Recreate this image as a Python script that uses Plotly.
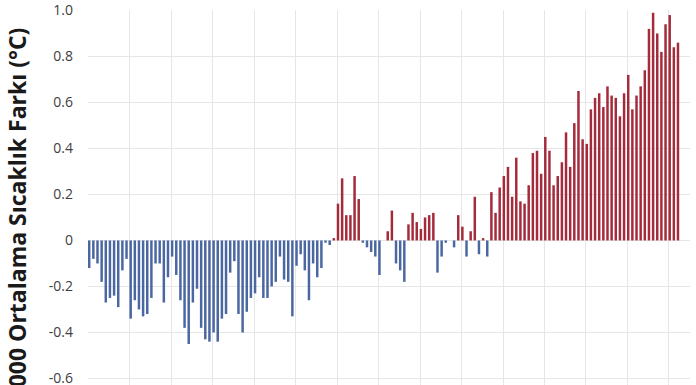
import plotly.graph_objects as go

years = list(range(1880, 2023))

anomaly = [
    # 1880-1903
    -0.12, -0.08, -0.10, -0.18, -0.27, -0.25, -0.24, -0.29, -0.13, -0.08,
    -0.34, -0.26, -0.30, -0.33, -0.32, -0.25, -0.10, -0.10, -0.27, -0.16,
    -0.07, -0.15, -0.26, -0.38,
    # 1904-1927
    -0.45, -0.27, -0.21, -0.38, -0.43, -0.44, -0.40, -0.44, -0.34, -0.32,
    -0.14, -0.09, -0.32, -0.40, -0.31, -0.25, -0.23, -0.16, -0.25, -0.25,
    -0.20, -0.18, -0.07, -0.17,
    # 1928-1950
    -0.18, -0.33, -0.11, -0.06, -0.13, -0.26, -0.10, -0.16, -0.12, -0.01,
    -0.02, 0.01, 0.16, 0.27, 0.11, 0.11, 0.28, 0.18, -0.01, -0.03,
    -0.05, -0.07, -0.15,
    # 1951
    0.00,
    # 1952-1975
    0.04, 0.13, -0.10, -0.13, -0.18, 0.07, 0.12, 0.08, 0.05, 0.10,
    0.11, 0.12, -0.14, -0.07, -0.01, 0.00, -0.03, 0.11, 0.06, -0.07,
    0.04, 0.19, -0.06, 0.01,
    # 1976-1999
    -0.07, 0.21, 0.12, 0.23, 0.28, 0.32, 0.19, 0.36, 0.17, 0.16,
    0.24, 0.38, 0.39, 0.29, 0.45, 0.39, 0.24, 0.28, 0.34, 0.47,
    0.32, 0.51, 0.65, 0.44,
    # 2000-2022
    0.42, 0.57, 0.62, 0.64, 0.58, 0.67, 0.63, 0.62, 0.54, 0.64,
    0.72, 0.57, 0.63, 0.67, 0.74, 0.92, 0.99, 0.90, 0.82, 0.94,
    0.98, 0.84, 0.86,
]

y_ticks = [1.0, 0.8, 0.6, 0.4, 0.2, 0, -0.2, -0.4, -0.6]
y_tick_labels = ["1.0", "0.8", "0.6", "0.4", "0.2", "0", "-0.2", "-0.4", "-0.6"]
y_title = "1901-2000 Ortalama Sıcaklık Farkı (°C)"

BLUE = "#4A67A1"
RED = "#A32B3B"
colors = [RED if v > 0 else BLUE for v in anomaly]

fig = go.Figure(
    go.Bar(
        x=years,
        y=anomaly,
        marker=dict(color=colors, line=dict(width=0)),
        width=0.6,
        hoverinfo="x+y",
    )
)

FIG_H = 400  # page is clipped at 385 px, like the cropped original

fig.update_layout(
    width=696,
    height=FIG_H,
    margin=dict(l=88, r=6, t=10, b=0, autoexpand=False),
    paper_bgcolor="white",
    plot_bgcolor="white",
    showlegend=False,
    font=dict(family="Open Sans", color="#404040"),
    xaxis=dict(
        range=[1879.71, 2024.9],
        tickmode="linear",
        tick0=1879.8,
        dtick=10,
        showticklabels=False,
        showgrid=True,
        gridcolor="#E6E6E6",
        gridwidth=1,
        zeroline=False,
        showline=False,
        ticks="",
        automargin=False,
    ),
    yaxis=dict(
        range=[-0.6937, 1.002],
        tickmode="array",
        tickvals=y_ticks,
        ticktext=y_tick_labels,
        tickfont=dict(size=14, color="#404040"),
        showgrid=True,
        gridcolor="#E6E6E6",
        gridwidth=1,
        zeroline=False,
        showline=False,
        ticks="",
        ticklabelstandoff=14,
        automargin=False,
    ),
    annotations=[
        dict(
            text="<b>" + y_title + "</b>",
            xref="paper",
            yref="paper",
            x=-0.118,
            y=(FIG_H - 25) / (FIG_H - 10),
            xanchor="center",
            yanchor="top",
            textangle=-90,
            showarrow=False,
            font=dict(family="Open Sans", size=23, color="#1a1a1a"),
        )
    ],
)

fig.write_html(
    "out.html",
    config={"displayModeBar": False},
    post_script=(
        "document.body.style.margin='0';document.body.style.padding='0';"
        "document.body.style.overflow='hidden';"
        "document.documentElement.style.overflow='hidden';"
    ),
)
